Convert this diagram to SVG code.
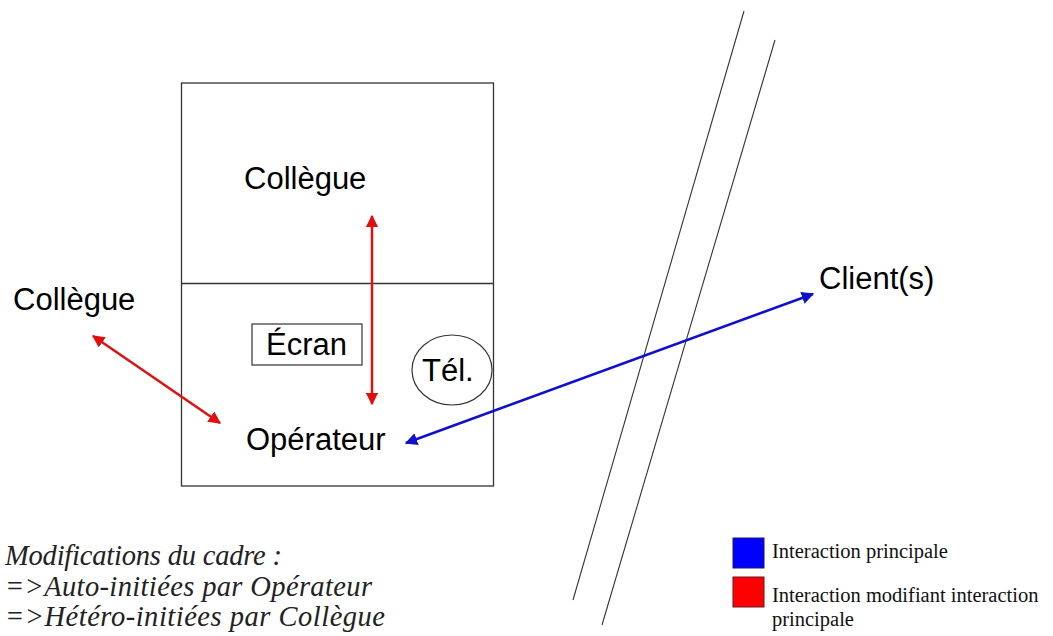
<svg xmlns="http://www.w3.org/2000/svg" width="1053" height="636" viewBox="0 0 1053 636">
<style>
.lbl{font-family:"Liberation Sans",Arial,sans-serif;font-size:31px;fill:#000}
.note{font-family:"Liberation Serif","Times New Roman",serif;font-style:italic;font-size:28.5px;fill:#222}
.leg{font-family:"Liberation Serif","Times New Roman",serif;font-size:20.5px;fill:#111}
.frame{fill:none;stroke:#333;stroke-width:1.3}
.red{stroke:#e01010;stroke-width:2.5;fill:none}
.blue{stroke:#1010cc;stroke-width:2.5;fill:none}
.thin{stroke:#333;stroke-width:1.1;fill:none}
</style>
<defs>
<marker id="ar" viewBox="0 0 10 10" refX="9" refY="5" markerWidth="5" markerHeight="5" orient="auto-start-reverse" markerUnits="strokeWidth"><path d="M0,0 L10,5 L0,10 z" fill="#e01010"/></marker>
<marker id="ab" viewBox="0 0 10 10" refX="9" refY="5" markerWidth="5" markerHeight="5" orient="auto-start-reverse" markerUnits="strokeWidth"><path d="M0,0 L10,5 L0,10 z" fill="#1010cc"/></marker>
</defs>
<rect width="1053" height="636" fill="#fff"/>
<g id="frame">
<rect class="frame" x="181.5" y="83" width="312" height="403"/>
<line class="frame" x1="181.5" y1="283.5" x2="493.5" y2="283.5"/>
</g>
<g id="boundary">
<line class="thin" x1="744" y1="11" x2="573" y2="600"/>
<line class="thin" x1="775" y1="40" x2="602" y2="625"/>
</g>
<g id="collegue-top"><text class="lbl" x="244" y="189">Collègue</text></g>
<g id="collegue-left"><text class="lbl" x="13" y="310">Collègue</text></g>
<g id="ecran"><rect x="252" y="324" width="110" height="41" fill="none" stroke="#333" stroke-width="1.2"/><text class="lbl" x="266" y="355">Écran</text></g>
<g id="tel"><ellipse cx="452" cy="370" rx="40" ry="35" fill="none" stroke="#333" stroke-width="1.2"/><text class="lbl" x="422" y="381">Tél.</text></g>
<g id="operateur"><text class="lbl" x="246" y="450">Opérateur</text></g>
<g id="client"><text class="lbl" x="819" y="289">Client(s)</text></g>
<g id="connectors">
<line class="red" x1="372" y1="216" x2="372" y2="404" marker-start="url(#ar)" marker-end="url(#ar)"/>
<line class="red" x1="93" y1="336" x2="220" y2="423" marker-start="url(#ar)" marker-end="url(#ar)"/>
<line class="blue" x1="406" y1="443" x2="813" y2="294" marker-start="url(#ab)" marker-end="url(#ab)"/>
</g>
<g id="note">
<text class="note" x="5" y="565" textLength="277" lengthAdjust="spacing">Modifications du cadre :</text>
<text class="note" x="5" y="596" textLength="367" lengthAdjust="spacing">=&gt;Auto-initiées par Opérateur</text>
<text class="note" x="5" y="626" textLength="380" lengthAdjust="spacing">=&gt;Hétéro-initiées par Collègue</text>
</g>
<g id="legend">
<rect x="733" y="538" width="31" height="30" fill="#0000ff" stroke="#1a1a66" stroke-width="1"/>
<text class="leg" x="772" y="558">Interaction principale</text>
<rect x="733" y="577" width="31" height="30" fill="#ff0000" stroke="#661a1a" stroke-width="1"/>
<text class="leg" x="772" y="602">Interaction modifiant interaction</text>
<text class="leg" x="772" y="626">principale</text>
</g>
</svg>
